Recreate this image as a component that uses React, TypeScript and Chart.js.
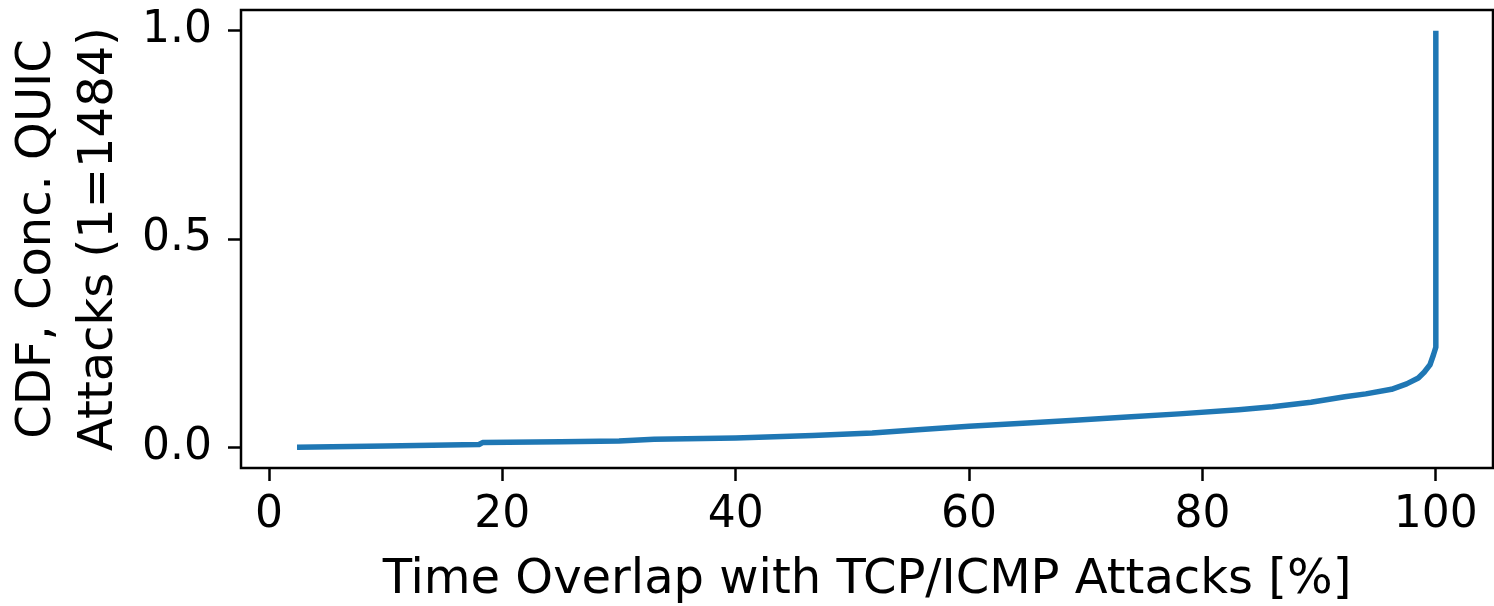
import React, { useEffect, useRef } from "react";
import { Chart, registerables } from "chart.js";

Chart.register(...registerables);

const overlapPct = [2.4, 10, 18, 18.3, 25, 30, 33, 40, 46.6, 51.7, 55.6, 60, 65, 69.4, 73.9, 78, 83.1, 86, 89.3, 92.2, 94, 96.2, 97.5, 98.5, 99, 99.5, 99.8, 100, 100];
const cdfValues = [0.0, 0.003, 0.0065, 0.011, 0.013, 0.015, 0.019, 0.022, 0.028, 0.034, 0.042, 0.05, 0.058, 0.065, 0.073, 0.08, 0.09, 0.097, 0.108, 0.121, 0.128, 0.139, 0.152, 0.166, 0.18, 0.198, 0.222, 0.24, 1.0];

const xTicks = [0, 20, 40, 60, 80, 100];
const yTicks = [0, 0.5, 1.0];

const xTitle = "Time Overlap with TCP/ICMP Attacks [%]";
const yTitle = ["CDF, Conc. QUIC", "Attacks (1=1484)"];

const FONT = "'DejaVu Sans', sans-serif";

export default function App() {
  const ref = useRef<HTMLCanvasElement | null>(null);

  useEffect(() => {
    if (!ref.current) return;
    const frame = {
      id: "frame",
      afterDatasetsDraw(chart: any) {
        const { ctx, chartArea } = chart;
        ctx.save();
        ctx.strokeStyle = "#000";
        ctx.lineWidth = 2.5;
        ctx.strokeRect(chartArea.left, chartArea.top, chartArea.right - chartArea.left, chartArea.bottom - chartArea.top);
        ctx.restore();
      },
    };
    const chart = new Chart(ref.current, {
      type: "line",
      data: {
        datasets: [
          {
            data: overlapPct.map((x, i) => ({ x, y: cdfValues[i] })),
            borderColor: "#1f77b4",
            borderWidth: 5.5,
            pointRadius: 0,
            tension: 0,
            fill: false,
            borderCapStyle: "butt",
            borderJoinStyle: "round",
          },
        ],
      },
      options: {
        responsive: false,
        animation: false,
        layout: { padding: { top: 10, right: 1, left: 0, bottom: 0 } },
        plugins: { legend: { display: false }, tooltip: { enabled: false } },
        scales: {
          x: {
            type: "linear",
            min: -2.4,
            max: 104.9,
            afterBuildTicks: (s: any) => {
              s.ticks = xTicks.map((v) => ({ value: v }));
            },
            afterFit: (s: any) => {
              s.height = 138;
              s.paddingLeft = 0;
              s.paddingRight = 0;
            },
            grid: { drawOnChartArea: false, tickLength: 13, tickWidth: 2.5, tickColor: "#000" },
            border: { display: false },
            ticks: {
              color: "#000",
              padding: 8,
              maxRotation: 0,
              font: { family: FONT, size: 44 },
              callback: (v: any) => String(v),
            },
            title: {
              display: true,
              text: xTitle,
              color: "#000",
              font: { family: FONT, size: 48, lineHeight: 1.0 },
              padding: { top: 0, bottom: 1 },
            },
          },
          y: {
            type: "linear",
            min: -0.05,
            max: 1.05,
            afterBuildTicks: (s: any) => {
              s.ticks = yTicks.map((v) => ({ value: v }));
            },
            afterFit: (s: any) => {
              s.width = 241;
              s.paddingTop = 0;
              s.paddingBottom = 0;
            },
            grid: { drawOnChartArea: false, tickLength: 13, tickWidth: 2.5, tickColor: "#000" },
            border: { display: false },
            ticks: {
              color: "#000",
              padding: 16,
              font: { family: FONT, size: 44 },
              callback: (v: any) => Number(v).toFixed(1),
            },
            title: {
              display: true,
              text: yTitle,
              color: "#000",
              font: { family: FONT, size: 48, lineHeight: 1.3 },
              padding: { top: 6, bottom: 0 },
            },
          },
        },
      },
      plugins: [frame],
    });
    return () => chart.destroy();
  }, []);

  return (
    <div style={{ position: "fixed", left: 0, top: 0, width: 1494, height: 606, background: "#fff" }}>
      <canvas ref={ref} width={1494} height={606} style={{ width: 1494, height: 606 }} />
    </div>
  );
}
